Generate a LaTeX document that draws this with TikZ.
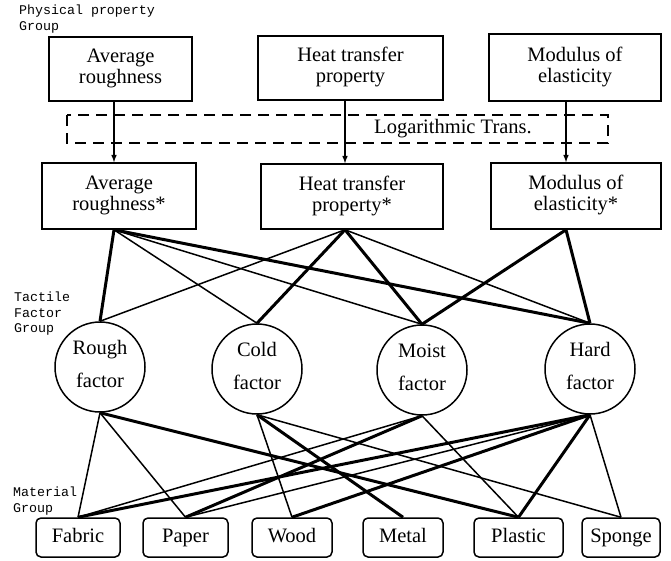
\documentclass[tikz,border=0pt]{standalone}
\usepackage{fontspec}
\setmainfont{Liberation Serif}
\setmonofont{Liberation Mono}
\usetikzlibrary{arrows,calc,shapes}

\tikzset{
  prop/.style={draw,line width=1.5pt,rectangle,align=center,inner sep=0pt},
  fac/.style={draw,line width=1.5pt,circle,minimum size=90pt,inner sep=0pt,align=center},
  mat/.style={draw,line width=1.5pt,rectangle,rounded corners=5pt,minimum height=39pt,inner sep=0pt,text height=14pt,text depth=4pt},
  grp/.style={anchor=north west,align=left,inner sep=0pt,font=\ttfamily\fontsize{13.3}{15.5}\selectfont},
  weak/.style={line width=1.5pt},
  strong/.style={line width=3pt}
}

\begin{document}
\begin{tikzpicture}[x=1pt,y=-1pt,font=\fontsize{20.5}{21}\selectfont]
    \useasboundingbox (0,0) rectangle (671,560);
    \node[grp] (g1) at (19,5) {Physical property\\Group};
    \node[grp] (g2) at (14,292) {Tactile\\Factor\\Group};
    \node[grp] (g3) at (13,487) {Material\\Group};

    \node[prop,minimum width=143pt,minimum height=64pt] (avg1) at (120.5,69) {Average\strut\\roughness\strut};
    \node[prop,minimum width=185pt,minimum height=64pt] (heat1) at (350.5,68) {Heat transfer\strut\\property\strut};
    \node[prop,minimum width=172pt,minimum height=67pt] (mod1) at (575,67.5) {Modulus of\strut\\elasticity\strut};

    \node[prop,minimum width=154pt,minimum height=66pt] (avg2) at (119,196) {Average\strut\\roughness*\strut};
    \node[prop,minimum width=182pt,minimum height=65pt] (heat2) at (352,196.5) {Heat transfer\strut\\property*\strut};
    \node[prop,minimum width=170pt,minimum height=66pt] (mod2) at (576,196) {Modulus of\strut\\elasticity*\strut};

    \draw[line width=2.5pt,dash pattern=on 11pt off 7pt] (67,115) rectangle (608,143);
    \node (log) at (453,129) {Logarithmic Trans.};

    \coordinate (ja) at (114,0);
    \coordinate (jb) at (345,0);
    \coordinate (jc) at (566,0);
    \draw[weak,-latex] (avg1.south -| ja) -- (avg2.north -| ja);
    \draw[weak,-latex] (heat1.south -| jb) -- (heat2.north -| jb);
    \draw[weak,-latex] (mod1.south -| jc) -- (mod2.north -| jc);
    \coordinate (pa) at (avg2.south -| ja);
    \coordinate (pb) at (heat2.south -| jb);
    \coordinate (pc) at (mod2.south -| jc);

    \node[fac] (rough) at (100,367) {Rough\strut\\[12pt]factor\strut};
    \node[fac] (cold) at (257,369) {Cold\strut\\[12pt]factor\strut};
    \node[fac] (moist) at (422,370) {Moist\strut\\[12pt]factor\strut};
    \node[fac] (hard) at (590,369) {Hard\strut\\[12pt]factor\strut};

    \node[mat,minimum width=84pt] (fabric) at (78,537.5) {Fabric};
    \node[mat,minimum width=85pt] (paper) at (185.5,537.5) {Paper};
    \node[mat,minimum width=80pt] (wood) at (292,537.5) {Wood};
    \node[mat,minimum width=80pt] (metal) at (403,537.5) {Metal};
    \node[mat,minimum width=89pt] (plastic) at (518.5,537.5) {Plastic};
    \node[mat,minimum width=78pt] (sponge) at (621,537.5) {Sponge};

    \foreach \a/\b in {pa/rough,pa/hard,pb/cold,pb/moist,pc/moist,pc/hard}
      \draw[strong] (\a) -- (\b.north);
    \foreach \a/\b in {pa/cold,pa/moist,pb/rough,pb/hard}
      \draw[weak] (\a) -- (\b.north);

    \foreach \a/\b in {rough/plastic,cold/metal,moist/paper,hard/fabric,hard/wood,hard/plastic}
      \draw[strong] (\a.south) -- (\b.north);
    \foreach \a/\b in {rough/fabric,rough/paper,cold/wood,cold/sponge,moist/fabric,moist/plastic,hard/paper,hard/sponge}
      \draw[weak] (\a.south) -- (\b.north);
\end{tikzpicture}
\end{document}
